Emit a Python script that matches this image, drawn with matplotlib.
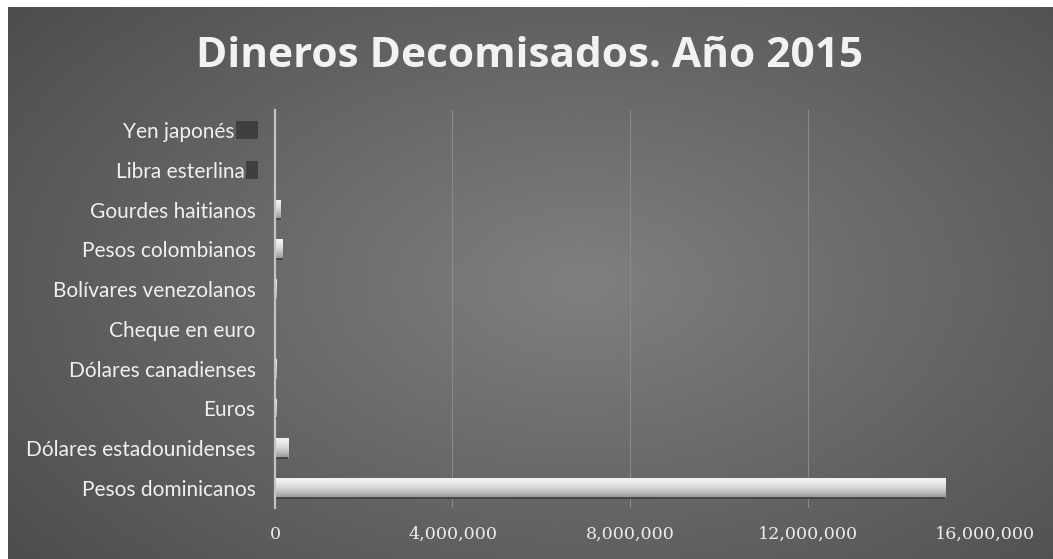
import numpy as np
import matplotlib
matplotlib.use('Agg')
import matplotlib.pyplot as plt
import matplotlib.ticker as ticker
import matplotlib.transforms as mtransforms
from matplotlib.patches import Rectangle

# monedas, de abajo hacia arriba
monedas = ["Pesos dominicanos", "Dólares estadounidenses", "Euros",
           "Dólares canadienses", "Cheque en euro", "Bolívares venezolanos",
           "Pesos colombianos", "Gourdes haitianos", "Libra esterlina",
           "Yen japonés"]
montos = [15100000, 300000, 40000, 25000, 20000, 30000,
          170000, 135000, 5000, 10000]
xticks = [0, 4000000, 8000000, 12000000, 16000000]

W, H = 1053, 559
fig = plt.figure(figsize=(W / 100, H / 100), dpi=100, facecolor='white')

# fondo gris con degradado radial
bg = fig.add_axes([8 / W, 0, 1 - 8 / W, 1 - 7 / H])
bg.set_axis_off()
yy, xx = np.mgrid[0:1:300j, 0:1:600j]
r = np.sqrt(((xx - 0.55) / 0.75) ** 2 + ((yy - 0.5) / 0.85) ** 2)
shade = 0.50 - 0.21 * np.clip(r, 0, 1.2)
bg.imshow(shade, cmap='gray', vmin=0, vmax=1, aspect='auto',
          extent=[0, 1, 0, 1], interpolation='bicubic')
bg.set_xlim(0, 1)
bg.set_ylim(0, 1)

fig.text(0.503, 0.899, "Dineros Decomisados. Año 2015", ha='center', va='center',
         fontsize=30.5, fontweight='bold', family='Open Sans', color='#f2f2f2')

ax = fig.add_axes([275 / W, 51 / H, 710 / W, 398 / H])
ax.patch.set_alpha(0)

y = np.arange(len(monedas))
bars = ax.barh(y, montos, height=0.5, color='#c9c9c9', edgecolor='none', zorder=3)

# relleno metalico de cada barra
grad = np.array([[0.95], [0.92], [0.88], [0.83], [0.77], [0.70], [0.60]])
for b in bars:
    x0, y0 = b.get_x(), b.get_y()
    w, h = b.get_width(), b.get_height()
    im = ax.imshow(grad, cmap='gray', vmin=0, vmax=1, aspect='auto',
                   extent=[x0, x0 + w, y0, y0 + h], interpolation='bicubic',
                   zorder=4)
    im.set_clip_path(b)
    ax.plot([x0, x0 + w], [y0, y0], color='#3c3c3c', lw=1.2, zorder=5,
            solid_capstyle='butt')

# las dos ultimas etiquetas dejan sitio para el recuadro oscuro
etiquetas = monedas[:8] + [monedas[8] + "  ", monedas[9] + "    "]

ax.set_xlim(0, 16000000)
ax.set_ylim(-0.5, len(monedas) - 0.5)
ax.set_yticks(y)
ax.set_yticklabels(etiquetas, family='Lato', fontsize=15, color='#f0f0f0')
ax.set_xticks(xticks)
ax.xaxis.set_major_formatter(ticker.StrMethodFormatter('{x:,.0f}'))
for lbl in ax.get_xticklabels():
    lbl.set_family('DejaVu Serif')
    lbl.set_fontsize(12.6)
    lbl.set_color('#ececec')
ax.tick_params(axis='both', length=0)
ax.tick_params(axis='y', pad=14)
ax.tick_params(axis='x', pad=13)
ax.grid(axis='x', color='#8a8a8a', lw=0.8, zorder=1)
for s in ['top', 'right', 'bottom']:
    ax.spines[s].set_visible(False)
ax.spines['left'].set_color('#c4c4c4')
ax.spines['left'].set_linewidth(1.6)
ax.spines['left'].set_zorder(6)

# recuadros oscuros junto a dos etiquetas
tr = mtransforms.blended_transform_factory(fig.transFigure, ax.transData)
for idx, x_px, w_px in [(9, 236, 22), (8, 246, 12)]:
    fig.patches.append(Rectangle((x_px / W, idx - 0.23), w_px / W, 0.46,
                                 transform=tr, facecolor='#3f3f3f',
                                 edgecolor='none', zorder=10))

fig.savefig('out.png', dpi=100, facecolor='white')
